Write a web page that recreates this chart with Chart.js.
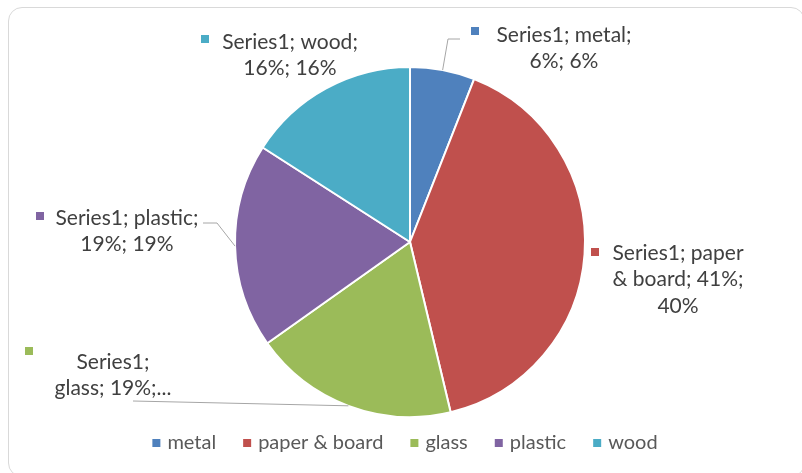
<!DOCTYPE html>
<html>
<head>
<meta charset="utf-8">
<script src="https://cdn.jsdelivr.net/npm/chart.js@4.4.1/dist/chart.umd.min.js"></script>
<style>
  html, body { margin: 0; padding: 0; background: #fff; }
  #wrap { position: relative; width: 802px; height: 473px; overflow: hidden; }
  #frame { position: absolute; left: 8px; top: 7px; width: 797px; height: 470px;
           border: 1px solid #d9d9d9; border-radius: 14px; box-sizing: border-box; }
  canvas { position: absolute; left: 0; top: 0; }
</style>
</head>
<body>
<div id="wrap">
  <div id="frame"></div>
  <canvas id="chart" width="802" height="473"></canvas>
</div>
<script>
// data
const seriesName = "Series1";
const categories = ["metal", "paper & board", "glass", "plastic", "wood"];
const values = [6, 40.5, 19, 19, 16];
const sliceColors = ["#4F81BD", "#C0504D", "#9BBB59", "#8064A2", "#4BACC6"];

const FONT = "Lato, 'Open Sans', sans-serif";

// where each data label sits (text centre x, first line y), its marker and leader elbow
const labelBoxes = [
  { cx: 564, y: 35, maxWidth: 150, marker: [475, 31], leader: [[448, 39], [460, 39]] },
  { cx: 678, y: 253, maxWidth: 138, marker: [595, 252] },
  { cx: 113, y: 362, maxWidth: 120, maxLines: 2, marker: [29, 351], leader: [[133, 401]] },
  { cx: 127, y: 218, maxWidth: 152, marker: [40, 216], leader: [[217, 223], [203, 223]] },
  { cx: 290, y: 42, maxWidth: 150, marker: [205, 39] }
];

function wrapText(ctx, text, maxWidth, maxLines) {
  const words = text.split(" ");
  const lines = [];
  let cur = "";
  words.forEach(w => {
    const test = cur ? cur + " " + w : w;
    if (cur && ctx.measureText(test).width > maxWidth) {
      lines.push(cur);
      cur = w;
    } else {
      cur = test;
    }
  });
  if (cur) lines.push(cur);
  if (maxLines && lines.length > maxLines) {
    lines.length = maxLines;
    lines[maxLines - 1] += "...";
  }
  return lines;
}

const pieLabels = {
  id: "pieLabels",
  afterDatasetsDraw(chart) {
    const ctx = chart.ctx;
    const meta = chart.getDatasetMeta(0);
    const data = chart.data.datasets[0].data;
    const total = data.reduce((a, b) => a + b, 0);
    ctx.save();
    ctx.font = "21px " + FONT;
    ctx.textAlign = "center";
    ctx.textBaseline = "middle";
    meta.data.forEach((arc, i) => {
      const box = labelBoxes[i];
      const v = data[i];
      const text = `${seriesName}; ${categories[i]}; ${Math.round(v)}%; ${Math.round(v / total * 100)}%`;
      const lines = wrapText(ctx, text, box.maxWidth, box.maxLines);

      // leader line from slice edge
      if (box.leader) {
        const mid = (arc.startAngle + arc.endAngle) / 2;
        ctx.strokeStyle = "#a6a6a6";
        ctx.lineWidth = 1;
        ctx.beginPath();
        ctx.moveTo(arc.x + Math.cos(mid) * arc.outerRadius, arc.y + Math.sin(mid) * arc.outerRadius);
        box.leader.forEach(p => ctx.lineTo(p[0], p[1]));
        ctx.stroke();
      }

      ctx.fillStyle = sliceColors[i];
      ctx.fillRect(box.marker[0] - 4, box.marker[1] - 4, 8, 8);

      ctx.fillStyle = "#404040";
      lines.forEach((ln, k) => ctx.fillText(ln, box.cx, box.y + k * 26.5));
    });
    ctx.restore();
  }
};

const bottomLegend = {
  id: "bottomLegend",
  afterDraw(chart) {
    const ctx = chart.ctx;
    ctx.save();
    ctx.font = "20px " + FONT;
    ctx.textBaseline = "middle";
    const gap = 27, textOff = 15, y = 443;
    const widths = categories.map(c => ctx.measureText(c).width);
    const total = widths.reduce((a, w) => a + textOff + w, 0) + gap * (categories.length - 1);
    let x = 405 - total / 2;
    categories.forEach((c, i) => {
      ctx.fillStyle = sliceColors[i];
      ctx.fillRect(x, y - 4, 8, 8);
      ctx.fillStyle = "#595959";
      ctx.fillText(c, x + textOff, y);
      x += textOff + widths[i] + gap;
    });
    ctx.restore();
  }
};

new Chart(document.getElementById("chart").getContext("2d"), {
  type: "pie",
  data: {
    labels: categories,
    datasets: [{
      label: seriesName,
      data: values,
      backgroundColor: sliceColors,
      borderColor: "#ffffff",
      borderWidth: 2
    }]
  },
  options: {
    responsive: false,
    devicePixelRatio: 1,
    animation: false,
    layout: { padding: { top: 66, bottom: 55, left: 100, right: 82 } },
    plugins: {
      legend: { display: false },
      tooltip: { enabled: false }
    }
  },
  plugins: [pieLabels, bottomLegend]
});
</script>
</body>
</html>
